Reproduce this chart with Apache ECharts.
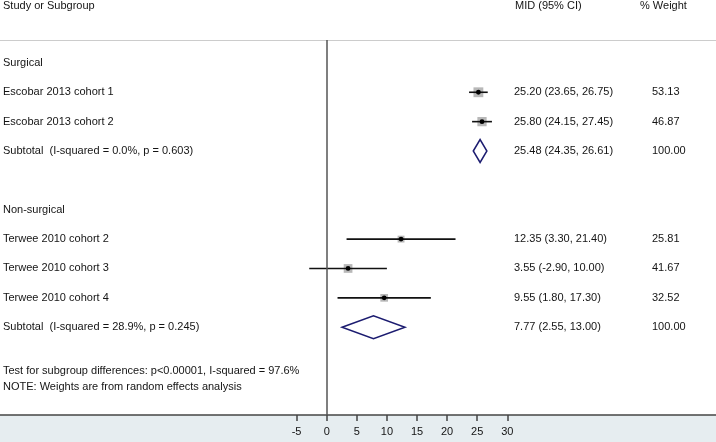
<!DOCTYPE html>
<html>
<head>
<meta charset="utf-8">
<script src="https://cdn.jsdelivr.net/npm/echarts@6/dist/echarts.min.js"></script>
<style>
html,body{margin:0;padding:0;background:#fff;}
#chart{width:716px;height:442px;}
</style>
</head>
<body>
<div id="chart"></div>
<script>
// ---- data ----
var groupLabels = ['Surgical', 'Non-surgical'];
var groupRows = [0, 5];

var studyNames = ['Escobar 2013 cohort 1', 'Escobar 2013 cohort 2', 'Terwee 2010 cohort 2', 'Terwee 2010 cohort 3', 'Terwee 2010 cohort 4'];
var studyRows = [1, 2, 6, 7, 8];
var studyMid = [25.20, 25.80, 12.35, 3.55, 9.55];
var studyLow = [23.65, 24.15, 3.30, -2.90, 1.80];
var studyHigh = [26.75, 27.45, 21.40, 10.00, 17.30];
var studyWeight = [53.13, 46.87, 25.81, 41.67, 32.52];

var subtotalNames = ['Subtotal  (I-squared = 0.0%, p = 0.603)', 'Subtotal  (I-squared = 28.9%, p = 0.245)'];
var subtotalRows = [3, 9];
var subtotalMid = [25.48, 7.77];
var subtotalLow = [24.35, 2.55];
var subtotalHigh = [26.61, 13.00];
var subtotalWeight = [100.00, 100.00];

var footnotes = ['Test for subgroup differences: p<0.00001, I-squared = 97.6%', 'NOTE: Weights are from random effects analysis'];
var footRows = [10.5, 11.05];

var xTicks = [-5, 0, 5, 10, 15, 20, 25, 30];
var headers = ['Study or Subgroup', 'MID (95% CI)', '% Weight'];

// ---- helpers ----
function fmt(v) { return v.toFixed(2); }
var FONT = '"Liberation Sans", Arial, Helvetica, sans-serif';
var TXT = '#141414';

var studyData = studyNames.map(function (n, i) {
  return [studyMid[i], studyRows[i], studyLow[i], studyHigh[i], studyWeight[i]];
});
var subtotalData = subtotalNames.map(function (n, i) {
  return [subtotalMid[i], subtotalRows[i], subtotalLow[i], subtotalHigh[i], subtotalWeight[i]];
});

// text rows: [row, leftLabel, ciText, weightText]
var textRows = [];
groupLabels.forEach(function (g, i) { textRows.push([groupRows[i], g, '', '']); });
studyNames.forEach(function (n, i) {
  textRows.push([studyRows[i], n, fmt(studyMid[i]) + ' (' + fmt(studyLow[i]) + ', ' + fmt(studyHigh[i]) + ')', fmt(studyWeight[i])]);
});
subtotalNames.forEach(function (n, i) {
  textRows.push([subtotalRows[i], n, fmt(subtotalMid[i]) + ' (' + fmt(subtotalLow[i]) + ', ' + fmt(subtotalHigh[i]) + ')', fmt(subtotalWeight[i])]);
});
footnotes.forEach(function (f, i) { textRows.push([footRows[i], f, '', '']); });

var COL_LEFT = 3, COL_CI = 514, COL_W = 652;

function textEl(x, y, s) {
  return { type: 'text', x: x, y: y, style: { text: s, fill: TXT, font: '11px ' + FONT, textAlign: 'left', textVerticalAlign: 'middle' } };
}

var chart = echarts.init(document.getElementById('chart'), null, { renderer: 'canvas' });

var option = {
  animation: false,
  backgroundColor: '#ffffff',
  grid: { left: 0, right: 0, top: 40, bottom: 27 },
  graphic: [
    { type: 'rect', left: 0, bottom: 0, shape: { width: 716, height: 27 }, style: { fill: '#e6edf0' }, z: -10, silent: true },
    { type: 'text', left: 3, top: 0, style: { text: headers[0], fill: TXT, font: '11px ' + FONT } },
    { type: 'text', left: 515, top: 0, style: { text: headers[1], fill: TXT, font: '11px ' + FONT } },
    { type: 'text', left: 640, top: 0, style: { text: headers[2], fill: TXT, font: '11px ' + FONT } }
  ],
  xAxis: [{
    type: 'value',
    min: -54.27,
    max: 64.67,
    position: 'bottom',
    splitLine: { show: false },
    axisLine: { show: true, onZero: false, lineStyle: { color: '#444', width: 1.5 } },
    axisTick: { show: true, inside: false, length: 6, customValues: xTicks, lineStyle: { color: '#444', width: 1.5 } },
    axisLabel: { show: true, customValues: xTicks, color: TXT, fontSize: 11, fontFamily: FONT, margin: 11 }
  }, {
    type: 'value',
    min: -54.27,
    max: 64.67,
    position: 'top',
    splitLine: { show: false },
    axisLine: { show: true, onZero: false, lineStyle: { color: '#cccccc', width: 1 } },
    axisTick: { show: false },
    axisLabel: { show: false }
  }],
  yAxis: {
    type: 'value',
    inverse: true,
    min: -0.78,
    max: 11.99,
    show: false
  },
  series: [
    {
      type: 'custom',
      name: 'studies',
      xAxisIndex: 0,
      data: studyData,
      encode: { x: [0, 2, 3], y: 1 },
      renderItem: function (params, api) {
        var mid = api.coord([api.value(0), api.value(1)]);
        var lo = api.coord([api.value(2), api.value(1)]);
        var hi = api.coord([api.value(3), api.value(1)]);
        var s = 1.35 * Math.sqrt(api.value(4));
        return {
          type: 'group',
          children: [
            { type: 'rect', shape: { x: mid[0] - s / 2, y: mid[1] - s / 2, width: s, height: s }, style: { fill: '#b8b8b8' } },
            { type: 'line', shape: { x1: lo[0], y1: lo[1], x2: hi[0], y2: hi[1] }, style: { stroke: '#111', lineWidth: 1.6 } },
            { type: 'circle', shape: { cx: mid[0], cy: mid[1], r: 2.4 }, style: { fill: '#000' } }
          ]
        };
      },
      markLine: {
        silent: true,
        symbol: ['none', 'none'],
        label: { show: false },
        lineStyle: { color: '#555', width: 1.5, type: 'solid' },
        data: [{ xAxis: 0 }]
      },
      z: 3
    },
    {
      type: 'custom',
      name: 'subtotals',
      data: subtotalData,
      encode: { x: [0, 2, 3], y: 1 },
      renderItem: function (params, api) {
        var mid = api.coord([api.value(0), api.value(1)]);
        var lo = api.coord([api.value(2), api.value(1)]);
        var hi = api.coord([api.value(3), api.value(1)]);
        var h = 11.5;
        return {
          type: 'polygon',
          shape: { points: [[lo[0], lo[1]], [mid[0], mid[1] - h], [hi[0], hi[1]], [mid[0], mid[1] + h]] },
          style: { fill: 'none', stroke: '#1c1c70', lineWidth: 1.5 }
        };
      },
      z: 3
    },
    {
      type: 'custom',
      name: 'texts',
      data: textRows,
      encode: { y: 0 },
      clip: false,
      renderItem: function (params, api) {
        var y = api.coord([0, api.value(0)])[1];
        var row = textRows[params.dataIndex];
        var children = [textEl(COL_LEFT, y, row[1])];
        if (row[2]) children.push(textEl(COL_CI, y, row[2]));
        if (row[3]) children.push(textEl(COL_W, y, row[3]));
        return { type: 'group', children: children };
      },
      z: 4
    }
  ]
};
chart.setOption(option);
</script>
</body>
</html>
